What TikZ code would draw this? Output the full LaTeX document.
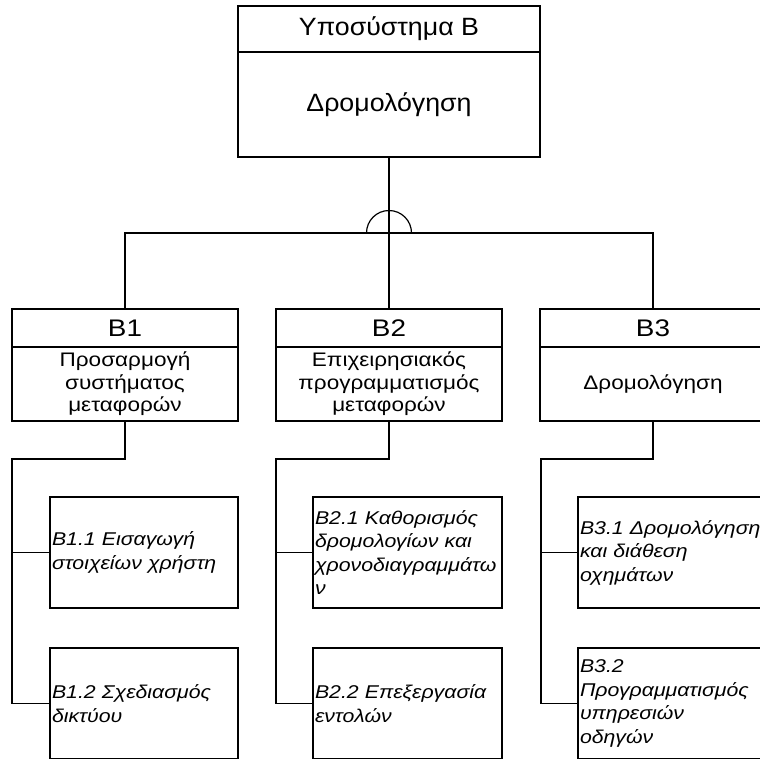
\documentclass[tikz,border=0pt]{standalone}
\usepackage{fontspec}
\setmainfont{Liberation Sans}
% widened cuts of the same face for the different text levels
\newfontfamily\fnttitle[FakeStretch=1.07]{Liberation Sans}
\newfontfamily\fnthead[FakeStretch=1.16]{Liberation Sans}
\newfontfamily\fntbody[FakeStretch=1.15]{Liberation Sans}
\begin{document}
\begin{tikzpicture}[x=1pt,y=-1pt,
  line width=1.2pt,
  box/.style={draw=black, rectangle, inner sep=0pt, outer sep=0pt},
  toptitle/.style={box, minimum width=302pt, font=\fnttitle\fontsize{25}{29}\selectfont},
  head/.style={box, minimum width=226pt, minimum height=38pt, font=\fnthead\fontsize{24}{28}\selectfont},
  body/.style={box, minimum width=226pt, minimum height=74pt, align=center, font=\fntbody\fontsize{19.6}{22.5}\selectfont},
  leaf/.style={box, minimum width=188pt, minimum height=111pt, inner xsep=2pt, text width=184pt,
               align=left, font=\fntbody\fontsize{18.5}{23.5}\selectfont\itshape},
  link/.style={draw=black, line width=1.2pt}]
\useasboundingbox (0,0) rectangle (760,758);
\clip (0,0) rectangle (760,758);

% subsystem box
\node[toptitle, minimum height=46pt]  (tophead) at (389,29)    {Υποσύστημα B};
\node[toptitle, minimum height=105pt] (topbody) at (389,104.5) {Δρομολόγηση};

% level-one functions
\node[head] (b1head) at (125,328) {B1};
\node[body] (b1body) at (125,384) {Προσαρμογή\\συστήματος\\μεταφορών};
\node[head] (b2head) at (389,328) {B2};
\node[body] (b2body) at (389,384) {Επιχειρησιακός\\προγραμματισμός\\μεταφορών};
\node[head] (b3head) at (653,328) {B3};
\node[body] (b3body) at (653,384) {Δρομολόγηση};

% level-two functions
\node[leaf] (b11) at (144,552.5)   {B1.1 Εισαγωγή\\στοιχείων χρήστη};
\node[leaf] (b12) at (144,703.5)   {B1.2 Σχεδιασμός\\δικτύου};
\node[leaf, minimum width=189pt, text width=185pt] (b21) at (407.5,552.5) {B2.1 Καθορισμός\\δρομολογίων και\\χρονοδιαγραμμάτω\\ν};
\node[leaf, minimum width=189pt, text width=185pt] (b22) at (407.5,703.5) {B2.2 Επεξεργασία\\εντολών};
\node[leaf] (b31) at (672,552.5)   {B3.1 Δρομολόγηση\\και διάθεση\\οχημάτων};
\node[leaf] (b32) at (672,703.5)   {B3.2\\Προγραμματισμός\\υπηρεσιών\\οδηγών};

% decomposition bar with AND symbol
\coordinate (bar) at (389,233);
\draw[link] (topbody.south) -- (b2head.north);
\draw[link] (b1head.north) |- (bar) -| (b3head.north);
\draw[link] ([xshift=-22.5pt]bar) arc[start angle=180, end angle=0, radius=22.5pt];

% rails to the level-two functions
\coordinate (r1) at (12,459);
\coordinate (r2) at (276,459);
\coordinate (r3) at (541,459);
\draw[link] (b1body.south) |- (r1) |- (b12.west);
\draw[link] (r1) |- (b11.west);
\draw[link] (b2body.south) |- (r2) |- (b22.west);
\draw[link] (r2) |- (b21.west);
\draw[link] (b3body.south) |- (r3) |- (b32.west);
\draw[link] (r3) |- (b31.west);
\end{tikzpicture}
\end{document}
